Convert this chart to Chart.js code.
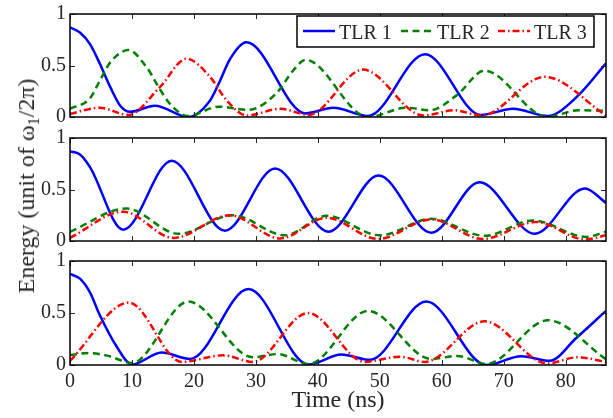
<!DOCTYPE html>
<html>
<head>
<meta charset="utf-8">
<script src="https://cdn.jsdelivr.net/npm/chart.js@4/dist/chart.umd.min.js"></script>
<style>
html,body{margin:0;padding:0;background:#fff;}
#wrap{position:relative;width:613px;height:418px;overflow:hidden;background:#fff;}
#wrap canvas{position:absolute;left:0;top:0;}
#ylab{position:absolute;left:26px;top:186px;transform:translate(-50%,-50%) rotate(-90deg);white-space:nowrap;font-family:'Liberation Serif',serif;font-size:24px;line-height:24px;color:#262626;}
#ylab sub{font-size:16px;vertical-align:-5px;line-height:0;}
</style>
</head>
<body>
<div id="wrap">
  <canvas id="c1" width="613" height="418"></canvas>
  <canvas id="c2" width="613" height="418"></canvas>
  <canvas id="c3" width="613" height="418"></canvas>
  <div id="ylab">Energy (unit of &omega;<sub>1</sub>/2&pi;)</div>
</div>
<script>
// ---- tick labels / categories ----
const xTicks = [0, 10, 20, 30, 40, 50, 60, 70, 80];
const yTicks = [0, 0.5, 1];
const seriesNames = ['TLR 1', 'TLR 2', 'TLR 3'];
const xLabel = 'Time (ns)';

// ---- panel 1 (top) ----
const p1BlueT  = [0, 1.6, 3.2, 4.8, 6.5, 8.1, 9.7, 13.7, 19.1, 22.6, 24.2, 25.8, 28.5, 38, 42.5, 48.1, 57.3, 66.3, 71.5, 77.1, 81.7, 86.5];
const p1BlueV  = [0.87, 0.82, 0.71, 0.52, 0.29, 0.11, 0.05, 0.11, 0.0, 0.16, 0.35, 0.56, 0.725, 0.035, 0.09, 0.01, 0.61, 0.02, 0.08, 0.01, 0.19, 0.52];
const p1GreenT = [0, 3.2, 4.8, 6.5, 9.4, 12.4, 14.5, 16.1, 19, 24, 28.8, 33.3, 36, 38, 48.1, 54.3, 58, 62.4, 66.9, 77, 82, 86.5];
const p1GreenV = [0.08, 0.18, 0.35, 0.53, 0.65, 0.48, 0.27, 0.13, 0.01, 0.1, 0.07, 0.23, 0.45, 0.555, 0.0, 0.09, 0.065, 0.21, 0.45, 0.0, 0.065, 0.06];
const p1RedT   = [0, 4.8, 9.4, 14.5, 18.8, 22.6, 25.3, 28.5, 34, 38.5, 47.3, 57, 62, 66.4, 76.6, 86.5];
const p1RedV   = [0.03, 0.09, 0.02, 0.29, 0.565, 0.39, 0.16, 0.015, 0.08, 0.02, 0.46, 0.015, 0.065, 0.015, 0.39, 0.015];

// ---- panel 2 (middle) ----
const p2BlueT  = [0, 1.6, 3.2, 8.6, 16.4, 25, 33.1, 41.7, 49.8, 58.3, 66.1, 75, 83.1, 86.5];
const p2BlueV  = [0.87, 0.84, 0.72, 0.11, 0.78, 0.1, 0.705, 0.09, 0.635, 0.08, 0.57, 0.07, 0.51, 0.37];
const p2GreenT = [0, 9.1, 17.5, 26.3, 34.7, 41.4, 50, 58.3, 66.9, 74.7, 83.3, 86.5];
const p2GreenV = [0.09, 0.315, 0.07, 0.25, 0.055, 0.245, 0.055, 0.215, 0.05, 0.2, 0.04, 0.09];
const p2RedT   = [0, 8.6, 16.7, 25.8, 33.9, 41.4, 49.7, 58.3, 66.6, 75.2, 83.1, 86.5];
const p2RedV   = [0.03, 0.285, 0.03, 0.25, 0.025, 0.225, 0.02, 0.21, 0.02, 0.185, 0.015, 0.055];

// ---- panel 3 (bottom) ----
const p3BlueT  = [0, 1.6, 3.2, 4.8, 7.5, 10, 14.8, 19.4, 28.8, 38.5, 43.8, 48.4, 57.5, 67.2, 72.8, 77.4, 81.7, 86.5];
const p3BlueV  = [0.875, 0.83, 0.7, 0.48, 0.18, 0.005, 0.12, 0.058, 0.73, 0.005, 0.1, 0.05, 0.61, 0.0, 0.085, 0.04, 0.26, 0.52];
const p3GreenT = [0, 3, 6, 10, 19.1, 29.5, 33.5, 38.5, 48.1, 58.3, 62.5, 67.2, 77.1, 86.5];
const p3GreenV = [0.095, 0.115, 0.09, 0.02, 0.61, 0.075, 0.105, 0.01, 0.52, 0.058, 0.087, 0.01, 0.43, 0.055];
const p3RedT   = [0, 9.5, 18, 24.7, 29.5, 38.4, 47.6, 53.2, 57.3, 66.9, 77, 81.9, 86.5];
const p3RedV   = [0.04, 0.6, 0.03, 0.093, 0.03, 0.5, 0.03, 0.08, 0.03, 0.42, 0.015, 0.074, 0.03];

// ---- styles ----
const styles = [
  {color: '#0000ff', dash: [], width: 2.5, order: 3},
  {color: '#008000', dash: [7, 4.5], width: 2.5, order: 2},
  {color: '#ff0000', dash: [7, 3, 1.5, 3], width: 2.5, order: 1}
];
const FONT = "'Liberation Serif', 'Times New Roman', serif";
const TXT = '#262626';

function pts(t, v) { return t.map((x, i) => ({x: x, y: v[i]})); }
function mkDatasets(list) {
  return list.map((s, i) => ({
    label: seriesNames[i],
    data: pts(s[0], s[1]),
    borderColor: styles[i].color,
    borderDash: styles[i].dash,
    borderWidth: styles[i].width,
    order: styles[i].order,
    pointRadius: 0,
    fill: false,
    cubicInterpolationMode: 'monotone',
    tension: 0.4
  }));
}

const framePlugin = {
  id: 'frame',
  afterDatasetsDraw(chart) {
    const {ctx, chartArea: a} = chart;
    const x = chart.scales.x, y = chart.scales.y;
    ctx.save();
    ctx.strokeStyle = TXT;
    ctx.lineWidth = 1;
    ctx.setLineDash([]);
    ctx.beginPath();
    xTicks.forEach(v => {
      const px = Math.round(x.getPixelForValue(v)) + 0.5;
      ctx.moveTo(px, a.bottom); ctx.lineTo(px, a.bottom - 5);
      ctx.moveTo(px, a.top); ctx.lineTo(px, a.top + 5);
    });
    yTicks.forEach(v => {
      const py = Math.round(y.getPixelForValue(v)) + 0.5;
      ctx.moveTo(a.left, py); ctx.lineTo(a.left + 5, py);
      ctx.moveTo(a.right, py); ctx.lineTo(a.right - 5, py);
    });
    ctx.stroke();
    ctx.strokeStyle = '#000';
    ctx.lineWidth = 1.5;
    ctx.strokeRect(a.left, a.top, a.right - a.left, a.bottom - a.top);
    ctx.restore();
  }
};

const legendPlugin = {
  id: 'boxLegend',
  afterDraw(chart) {
    const ctx = chart.ctx;
    const bx = 297, by = 16, bw = 297, bh = 31;
    ctx.save();
    ctx.fillStyle = '#fff';
    ctx.fillRect(bx, by, bw, bh);
    ctx.strokeStyle = '#000';
    ctx.lineWidth = 1.5;
    ctx.strokeRect(bx, by, bw, bh);
    const lineX = [303, 401, 498];
    const ly = 31;
    ctx.font = '20px ' + FONT;
    ctx.textBaseline = 'alphabetic';
    ctx.textAlign = 'left';
    seriesNames.forEach((name, i) => {
      ctx.strokeStyle = styles[i].color;
      ctx.lineWidth = styles[i].width;
      ctx.setLineDash(styles[i].dash);
      ctx.beginPath();
      ctx.moveTo(lineX[i], ly);
      ctx.lineTo(lineX[i] + 32, ly);
      ctx.stroke();
      ctx.setLineDash([]);
      ctx.fillStyle = TXT;
      ctx.fillText(name, lineX[i] + 36, 39);
    });
    ctx.restore();
  }
};

function mkChart(id, list, top, bottom, showX, extraPlugins) {
  const xCfg = {
    type: 'linear', min: 0, max: 86.5, display: showX,
    grid: {display: false, drawTicks: false},
    border: {display: false},
    afterBuildTicks: s => { s.ticks = xTicks.map(v => ({value: v})); },
    ticks: {
      autoSkip: false, maxRotation: 0, includeBounds: false, padding: 7,
      color: TXT, font: {family: FONT, size: 20, lineHeight: 1},
      callback: v => String(v)
    }
  };
  if (showX) {
    xCfg.title = {display: true, text: xLabel, color: TXT,
      font: {family: FONT, size: 24, lineHeight: 1}, padding: {top: 0, bottom: 5}};
    xCfg.afterFit = s => { s.height = 418 - bottom; };
  }
  return new Chart(document.getElementById(id), {
    type: 'line',
    data: {datasets: mkDatasets(list)},
    options: {
      responsive: false, animation: false, devicePixelRatio: 1,
      layout: {padding: {top: top, bottom: showX ? 0 : 418 - bottom, left: 0, right: 7}},
      plugins: {legend: {display: false}, tooltip: {enabled: false}},
      events: [],
      scales: {
        x: xCfg,
        y: {
          type: 'linear', min: 0, max: 1,
          grid: {display: false, drawTicks: false},
          border: {display: false},
          afterBuildTicks: s => { s.ticks = yTicks.map(v => ({value: v})); },
          afterFit: s => { s.width = 70; },
          ticks: {
            autoSkip: false, padding: 4, color: TXT,
            font: {family: FONT, size: 20, lineHeight: 1},
            callback: v => String(v)
          }
        }
      }
    },
    plugins: [framePlugin].concat(extraPlugins || [])
  });
}

mkChart('c1', [[p1BlueT, p1BlueV], [p1GreenT, p1GreenV], [p1RedT, p1RedV]], 14, 117, false, [legendPlugin]);
mkChart('c2', [[p2BlueT, p2BlueV], [p2GreenT, p2GreenV], [p2RedT, p2RedV]], 138, 241, false);
mkChart('c3', [[p3BlueT, p3BlueV], [p3GreenT, p3GreenV], [p3RedT, p3RedV]], 261, 365, true);
</script>
</body>
</html>
